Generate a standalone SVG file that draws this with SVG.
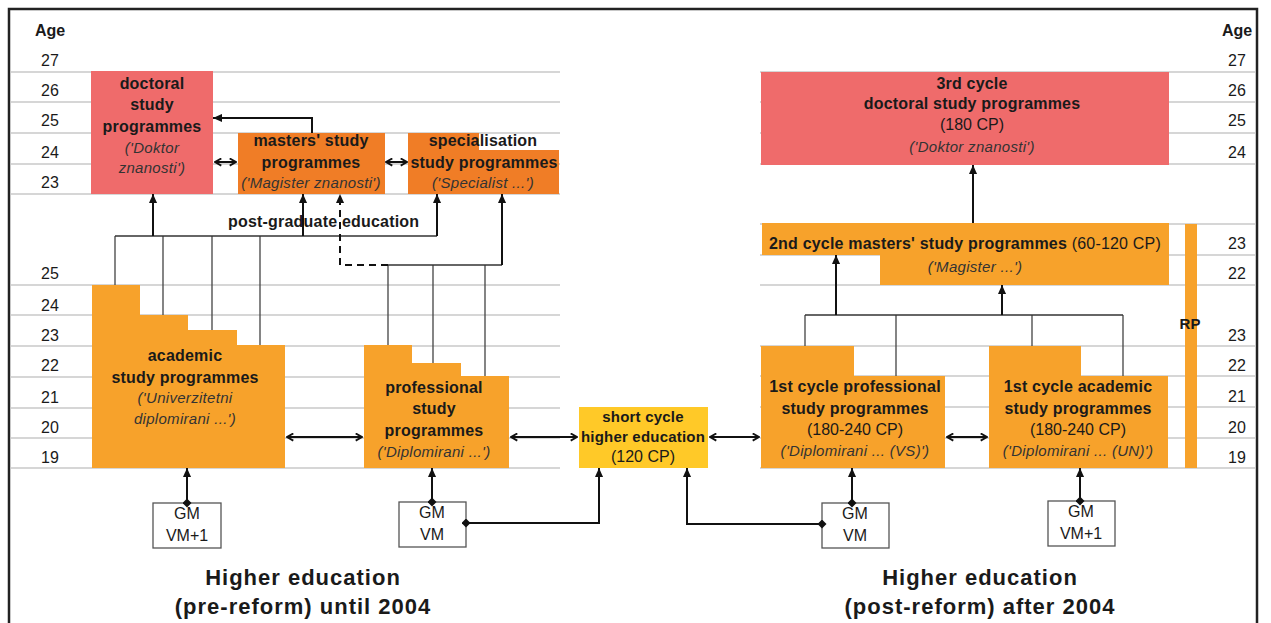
<svg xmlns="http://www.w3.org/2000/svg" width="1271" height="623" viewBox="0 0 1271 623">
<style>
text{font-family:"Liberation Sans",Arial,sans-serif;fill:#1a1a1a}
.b{font-weight:bold;font-size:16px;letter-spacing:0.2px}
.bs{font-weight:bold;font-size:15px;letter-spacing:0.2px}
.r{font-size:16px}
.i{font-style:italic;font-size:15px;fill:#333;letter-spacing:0.3px}
.age{font-size:16px;text-anchor:middle}
.t{font-weight:bold;font-size:22px;letter-spacing:1px;text-anchor:middle}
.m{text-anchor:middle}
.grid{stroke:#c9c9c9;stroke-width:1.5}
.red{fill:#EF6B6B}
.dor{fill:#F07D26}
.lor{fill:#F7A22B}
.yel{fill:#FFC928}
.gm{fill:#fff;stroke:#555;stroke-width:1.3}
.thin{stroke:#444;stroke-width:1.3;fill:none}
.trunk{stroke:#333;stroke-width:1.6;fill:none}
.arr{stroke:#111;stroke-width:2;fill:none;marker-end:url(#ah)}
.dbl{stroke:#111;stroke-width:2;fill:none;marker-start:url(#ch);marker-end:url(#ch)}
.dm{stroke:#111;stroke-width:2;fill:none;marker-start:url(#dm);marker-end:url(#ah)}
</style>
<defs>
<marker id="ah" viewBox="0 0 10 10" refX="10" refY="5" markerWidth="9" markerHeight="9" markerUnits="userSpaceOnUse" orient="auto-start-reverse"><path d="M0,0.5 L10,5 L0,9.5 z" fill="#111"/></marker>
<marker id="ch" viewBox="0 0 10 10" refX="9" refY="5" markerWidth="9" markerHeight="9" markerUnits="userSpaceOnUse" orient="auto-start-reverse"><path d="M2,1 L9,5 L2,9" fill="none" stroke="#111" stroke-width="2"/></marker>
<marker id="dm" viewBox="0 0 10 10" refX="5" refY="5" markerWidth="9" markerHeight="9" markerUnits="userSpaceOnUse"><path d="M5,0 L10,5 L5,10 L0,5 z" fill="#111"/></marker>
</defs>
<rect x="0" y="0" width="1271" height="623" fill="#fff"/>
<rect x="9" y="9" width="1248" height="640" fill="none" stroke="#222" stroke-width="2.5"/>

<g id="grid">
<path class="grid" d="M10,72H560M10,102H560M10,133H560M10,164H560M10,194H560M10,285H560M10,315H560M10,346H560M10,377H560M10,408H560M10,438H560M10,468H560"/>
<path class="grid" d="M760,72H1256M760,102H1256M760,133H1256M760,164H1256M760,224H1256M760,255H1256M760,285H1256M760,346H1256M760,376H1256M760,407H1256M760,438H1256M760,468H1256"/>
</g>

<g id="age-left">
<text x="50" y="36" class="age" font-weight="bold">Age</text>
<text x="50" y="66" class="age">27</text>
<text x="50" y="96" class="age">26</text>
<text x="50" y="126" class="age">25</text>
<text x="50" y="158" class="age">24</text>
<text x="50" y="188" class="age">23</text>
<text x="50" y="279" class="age">25</text>
<text x="50" y="311" class="age">24</text>
<text x="50" y="341" class="age">23</text>
<text x="50" y="371" class="age">22</text>
<text x="50" y="403" class="age">21</text>
<text x="50" y="433" class="age">20</text>
<text x="50" y="463" class="age">19</text>
</g>
<g id="age-right">
<text x="1237" y="36" class="age" font-weight="bold">Age</text>
<text x="1237" y="66" class="age">27</text>
<text x="1237" y="96" class="age">26</text>
<text x="1237" y="126" class="age">25</text>
<text x="1237" y="158" class="age">24</text>
<text x="1237" y="249" class="age">23</text>
<text x="1237" y="279" class="age">22</text>
<text x="1237" y="341" class="age">23</text>
<text x="1237" y="371" class="age">22</text>
<text x="1237" y="402" class="age">21</text>
<text x="1237" y="433" class="age">20</text>
<text x="1237" y="463" class="age">19</text>
</g>

<g id="doctoral-old">
<rect class="red" x="91" y="71" width="122" height="123"/>
<text class="b m" x="152" y="89">doctoral</text>
<text class="b m" x="152" y="110">study</text>
<text class="b m" x="152" y="132">programmes</text>
<text class="i m" x="152" y="153">('Doktor</text>
<text class="i m" x="152" y="173">znanosti')</text>
</g>
<g id="masters-old">
<rect class="dor" x="238" y="133" width="147" height="61"/>
<text class="b m" x="311" y="146">masters' study</text>
<text class="b m" x="311" y="168">programmes</text>
<text class="i m" x="311" y="188">('Magister znanosti')</text>
</g>
<g id="specialisation">
<path class="dor" d="M408,133H479V150H559V194H408Z"/>
<text class="b m" x="483" y="146">specialisation</text>
<text class="b m" x="484" y="168">study programmes</text>
<text class="i m" x="483" y="188">('Specialist ...')</text>
</g>
<g id="postgrad-label">
<text class="b" x="228" y="227">post-graduate education</text>
</g>
<g id="academic-old">
<path class="lor" d="M92,285H140V315H188V330H237V345H285V468H92Z"/>
<text class="b m" x="185" y="361">academic</text>
<text class="b m" x="185" y="383">study programmes</text>
<text class="i m" x="185" y="403">('Univerzitetni</text>
<text class="i m" x="185" y="424">diplomirani ...')</text>
</g>
<g id="professional-old">
<path class="lor" d="M364,345H412V363H461V376H509V468H364Z"/>
<text class="b m" x="434" y="393">professional</text>
<text class="b m" x="434" y="414">study</text>
<text class="b m" x="434" y="436">programmes</text>
<text class="i m" x="434" y="457">('Diplomirani ...')</text>
</g>
<g id="short-cycle">
<rect class="yel" x="579" y="407" width="129" height="61"/>
<text class="bs m" x="643" y="422">short cycle</text>
<text class="bs m" x="643" y="442">higher education</text>
<text class="r m" x="643" y="462">(120 CP)</text>
</g>
<g id="third-cycle">
<rect class="red" x="761" y="72" width="408" height="93"/>
<text class="b m" x="972" y="89">3rd cycle</text>
<text class="b m" x="972" y="109">doctoral study programmes</text>
<text class="r m" x="972" y="130">(180 CP)</text>
<text class="i m" x="972" y="152">('Doktor znanosti')</text>
</g>
<g id="second-cycle">
<path class="lor" d="M762,223H1169V285H880V255H762Z"/>
<text class="b m" x="965" y="249">2nd cycle masters' study programmes <tspan font-weight="normal">(60-120 CP)</tspan></text>
<text class="i m" x="975" y="272">('Magister ...')</text>
</g>
<g id="first-cycle-professional">
<path class="lor" d="M761,346H854V376H945V468H761Z"/>
<text class="b m" x="855" y="392">1st cycle professional</text>
<text class="b m" x="855" y="414">study programmes</text>
<text class="r m" x="855" y="435">(180-240 CP)</text>
<text class="i m" x="855" y="456">('Diplomirani ... (VS)')</text>
</g>
<g id="first-cycle-academic">
<path class="lor" d="M989,346H1081V376H1168V468H989Z"/>
<text class="b m" x="1078" y="392">1st cycle academic</text>
<text class="b m" x="1078" y="414">study programmes</text>
<text class="r m" x="1078" y="435">(180-240 CP)</text>
<text class="i m" x="1078" y="456">('Diplomirani ... (UN)')</text>
</g>
<g id="rp">
<rect class="lor" x="1185" y="224" width="12" height="244"/>
<text class="bs m" x="1190" y="329">RP</text>
</g>
<g id="gm-vm1-old">
<rect class="gm" x="153" y="503" width="68" height="45"/>
<text class="r m" x="187" y="519">GM</text>
<text class="r m" x="187" y="541">VM+1</text>
</g>
<g id="gm-vm-old">
<rect class="gm" x="399" y="502" width="67" height="45"/>
<text class="r m" x="432" y="518">GM</text>
<text class="r m" x="432" y="540">VM</text>
</g>
<g id="gm-vm-new">
<rect class="gm" x="822" y="503" width="67" height="45"/>
<text class="r m" x="855" y="519">GM</text>
<text class="r m" x="855" y="541">VM</text>
</g>
<g id="gm-vm1-new">
<rect class="gm" x="1048" y="501" width="67" height="45"/>
<text class="r m" x="1081" y="517">GM</text>
<text class="r m" x="1081" y="539">VM+1</text>
</g>
<g id="titles">
<text class="t" x="303" y="585">Higher education</text>
<text class="t" x="303" y="614">(pre-reform) until 2004</text>
<text class="t" x="980" y="585">Higher education</text>
<text class="t" x="980" y="614">(post-reform) after 2004</text>
</g>

<g id="connectors">
<path class="thin" d="M115,236V285M163,236V315M212,236V330M260,236V345"/>
<path class="trunk" d="M115,236H437"/>
<path class="arr" d="M153,236V194"/>
<path class="arr" d="M303,236V194"/>
<path class="arr" d="M437,236V194"/>
<path class="thin" d="M388,265V345M433,265V363M485,265V376"/>
<path class="trunk" d="M388,265H502"/>
<path class="arr" d="M502,265V194"/>
<path class="arr" stroke-dasharray="7,5" stroke-width="1.6" d="M388,265H340V194"/>
<path class="arr" d="M312,133V118H213"/>
<path class="dbl" d="M215,162H236"/>
<path class="dbl" d="M386,162H407"/>
<path class="dbl" d="M287,437H362"/>
<path class="dbl" d="M511,437H577"/>
<path class="dbl" d="M710,437H759"/>
<path class="dbl" d="M947,437H987"/>
<path class="dm" d="M187,503V468"/>
<path class="dm" d="M432,502V468"/>
<path class="dm" d="M466,523H599V468"/>
<path class="dm" d="M822,524H687V468"/>
<path class="dm" d="M852,503V468"/>
<path class="dm" d="M1080,501V468"/>
<path class="thin" d="M805,315V346M896,315V376M1032,315V346M1123,315V376"/>
<path class="trunk" d="M805,315H1123"/>
<path class="arr" d="M836,315V255"/>
<path class="arr" d="M1002,315V285"/>
<path class="arr" d="M973,223V165"/>
</g>
</svg>
